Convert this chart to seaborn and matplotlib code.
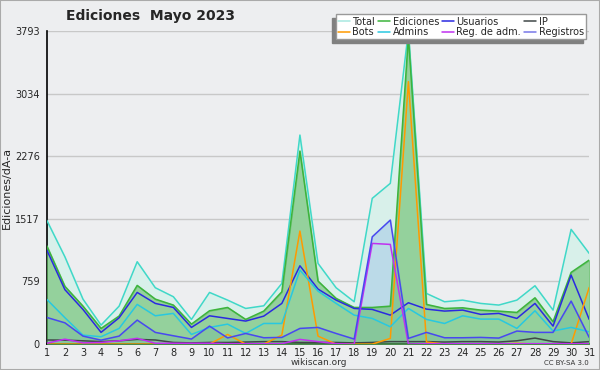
import numpy as np
import pandas as pd
import matplotlib
matplotlib.use("Agg")
import matplotlib.pyplot as plt
import seaborn as sns

days = list(range(1, 32))
total = [1500, 1058, 545, 230, 460, 998, 683, 574, 299, 626, 533, 432, 464, 735, 2533,
         978, 683, 513, 1766, 1948, 3793, 614, 513, 533, 493, 473, 533, 707, 412, 1390, 1099]
ediciones = [1190, 700, 460, 190, 340, 711, 545, 473, 242, 404, 444, 299, 400, 634, 2339,
             764, 554, 444, 444, 460, 3724, 481, 432, 440, 412, 400, 384, 561, 271, 869, 1018]
usuarios = [1140, 660, 420, 142, 319, 626, 493, 444, 202, 343, 311, 279, 339, 493, 949,
            667, 533, 432, 420, 351, 501, 424, 400, 412, 360, 372, 311, 493, 218, 836, 299]
ip = [50, 48, 40, 30, 40, 57, 50, 20, 15, 20, 20, 25, 30, 30, 20,
      20, 20, 15, 20, 30, 30, 30, 25, 30, 30, 25, 40, 73, 30, 15, 30]
bots = [0, 0, 0, 0, 0, 0, 0, 0, 0, 0, 117, 0, 0, 109, 1370,
        97, 0, 0, 0, 69, 3180, 25, 0, 0, 0, 0, 10, 0, 0, 0, 687]
admins = [542, 320, 109, 89, 190, 481, 343, 372, 117, 202, 242, 129, 250, 250, 897,
          642, 493, 351, 311, 210, 432, 299, 250, 343, 303, 303, 190, 404, 158, 202, 149]
reg_adm = [10, 60, 15, 20, 40, 70, 10, 10, 10, 10, 5, 5, 5, 5, 57,
           30, 5, 0, 1220, 1208, 0, 5, 5, 5, 5, 5, 5, 5, 5, 5, 5]
registros = [323, 258, 97, 48, 97, 291, 142, 101, 61, 218, 75, 129, 77, 81, 190,
             202, 129, 61, 1300, 1503, 69, 142, 77, 77, 81, 73, 158, 142, 142, 521, 81]
yticks = [0, 759, 1517, 2276, 3034, 3793]

df = pd.DataFrame({"day": days, "Total": total, "Ediciones": ediciones, "Usuarios": usuarios,
                   "IP": ip, "Bots": bots, "Admins": admins, "Reg. de adm.": reg_adm,
                   "Registros": registros})

sns.set_theme(style="white")
plt.rcParams['font.family'] = ['DejaVu Sans']

bg = "#edeef0"
fig = plt.figure(figsize=(6, 3.7), dpi=100, facecolor=bg)
ax = fig.add_axes([0.078, 0.070, 0.904, 0.846])
ax.set_facecolor(bg)

colors = {"Total": "#40d8c8", "Ediciones": "#3cb43c", "Usuarios": "#2a2ae0", "IP": "#404848",
          "Bots": "#ff9a00", "Admins": "#28c8e0", "Reg. de adm.": "#c030f0", "Registros": "#4848f0"}
leg_colors = dict(colors)
leg_colors["Total"] = "#a8e8e0"
leg_colors["Registros"] = "#7878e8"

ax.fill_between(df["day"], df["Total"], color="#d8f0ea", zorder=1)
ax.fill_between(df["day"], df["Registros"], color="#a8cce8", alpha=0.6, zorder=2)
ax.fill_between(df["day"], df["Ediciones"], color="#5cb85c", alpha=0.55, zorder=3)

for ycoord in yticks[1:]:
    ax.axhline(ycoord, color="#c8c8c8", lw=1, zorder=0.5)

order = ["Total", "Ediciones", "Usuarios", "IP", "Bots", "Admins", "Reg. de adm.", "Registros"]
for name in order:
    sns.lineplot(data=df, x="day", y=name, ax=ax, color=colors[name], lw=1.1, zorder=5)

ax.set_xlim(1, 31)
ax.set_ylim(0, 3793)
ax.set_xticks(days)
ax.set_xticklabels([str(d) for d in days], fontsize=7)
ax.set_yticks(yticks)
ax.set_yticklabels([str(v) for v in yticks], fontsize=7)
ax.set_yticks([(yticks[i] + yticks[i + 1]) / 2 for i in range(5)], minor=True)
ax.tick_params(axis='both', which='both', direction='out', length=4, width=1, color='black', pad=1)
ax.tick_params(axis='x', length=3, pad=0)
for s in ["top", "right"]:
    ax.spines[s].set_visible(False)
for s in ["left", "bottom"]:
    ax.spines[s].set_color("black")
    ax.spines[s].set_linewidth(1.2)
ax.set_xlabel("")
ax.set_ylabel("Ediciones/dÃ-a", fontsize=8, labelpad=2)

fig.text(0.532, 0.019, "wikiscan.org", fontsize=6.5, ha="center", va="center", color="#333333")
fig.text(0.982, 0.019, "CC BY-SA 3.0", fontsize=5, ha="right", va="center", color="#333333")
fig.text(0.25, 0.958, "Ediciones  Mayo 2023", fontsize=10, fontweight="bold", ha="center", va="center")

leg_order = ["Total", "Bots", "Ediciones", "Admins", "Usuarios", "Reg. de adm.", "IP", "Registros"]
leg_handles = [plt.Line2D([], [], color=leg_colors[n], lw=1.1) for n in leg_order]
leg = fig.legend(leg_handles, leg_order, ncol=4, fontsize=7,
                 loc="upper right", bbox_to_anchor=(0.985, 0.975), frameon=True, fancybox=False,
                 shadow={'ox': -2.5, 'oy': -2.5, 'color': '#808080', 'alpha': 1},
                 handlelength=1.2, handletextpad=0.25, columnspacing=0.35,
                 labelspacing=0.05, borderpad=0.25)
leg.get_frame().set_edgecolor("#999999")
leg.get_frame().set_facecolor("white")

fig.patches.append(plt.Rectangle((0, 0), 1, 1, transform=fig.transFigure, fill=False,
                                 edgecolor="#aaaaaa", lw=1.5))
fig.savefig("out.png", dpi=100, facecolor=bg)
